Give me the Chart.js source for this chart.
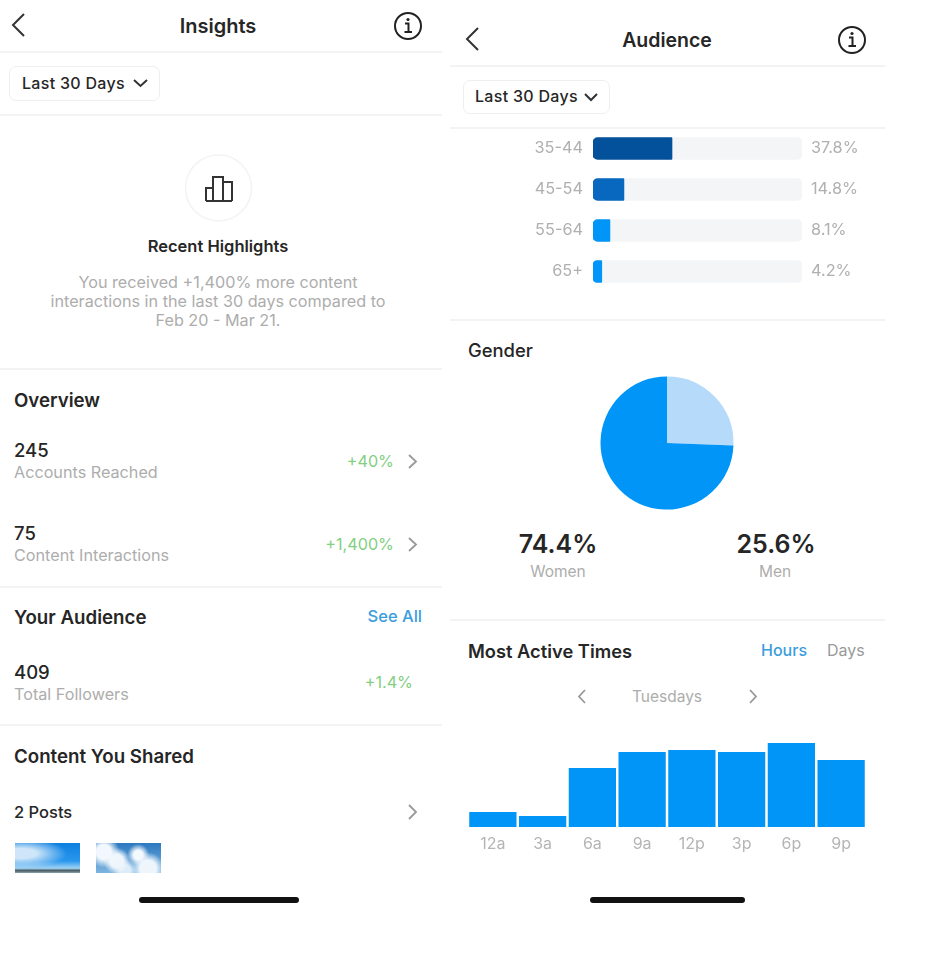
<!DOCTYPE html>
<html>
<head>
<meta charset="utf-8">
<title>Insights</title>
<script src="https://cdn.jsdelivr.net/npm/chart.js@4"></script>
<style>
html,body{margin:0;padding:0;background:#fff;}
body{width:926px;height:963px;position:relative;overflow:hidden;font-family:Inter,"Noto Sans",sans-serif;color:#262626;filter:blur(.5px);}
.t{position:absolute;transform:translateY(-50%);white-space:nowrap;}
.c{transform:translate(-50%,-50%);}
.r{transform:translate(-100%,-50%);}
.h{font-size:18.7px;font-weight:600;}
.n{font-size:18.500px;font-weight:500;}
.g{font-size:16.200px;color:#adadad;}
.s{font-size:15.500px;color:#adadad;}
.up{font-size:16.200px;color:#83cf83;}
.btnt{font-size:16px;font-weight:500;letter-spacing:.3px;}
.line{position:absolute;height:1.5px;margin-top:-1px;background:#f3f3f3;}
.btn{position:absolute;border:1.5px solid #efefef;border-radius:7px;box-sizing:border-box;}
.bar{position:absolute;height:6px;border-radius:3px;background:#111;}
canvas{position:absolute;}
svg{position:absolute;overflow:visible;fill:none;}
</style>
</head>
<body>

<!-- left phone -->
<svg style="left:0;top:0" width="926" height="963">
<path d="M24 14 L13 25 L24 36" stroke="#333" stroke-width="2"/>
<circle cx="408" cy="26" r="13" stroke="#222" stroke-width="2"/>
<path d="M405 23.5h3.5v8M404.500 32h7.500" stroke="#222" stroke-width="2"/>
<circle cx="408" cy="19.500" r="1.600" fill="#222"/>
<path d="M134 80l6.500 6 6.500-6" stroke="#333" stroke-width="2"/>
<circle cx="218.500" cy="188" r="33" stroke="#f3f3f3" stroke-width="1.500"/>
<path d="M206 201v-13h7v13M213 201v-24h10v24M223 201v-19h9v19M206 201h26" stroke="#333" stroke-width="2"/>
<path d="M409 455l7 6.500-7 6.500M409 538l7 6.500-7 6.500M409 805l7 7-7 7" stroke="#999" stroke-width="1.800"/>

<path d="M478 28 L467 39 L478 50" stroke="#333" stroke-width="2"/>
<circle cx="852" cy="40" r="13" stroke="#222" stroke-width="2"/>
<path d="M849 37.500h3.500v8M848.500 46h7.500" stroke="#222" stroke-width="2"/>
<circle cx="852" cy="33.500" r="1.600" fill="#222"/>
<path d="M585 94l6 6 6-6" stroke="#333" stroke-width="2"/>
<path d="M585 690l-6 6.500 6 6.500M750 690l6 6.500-6 6.500" stroke="#999" stroke-width="1.800"/>
</svg>

<div class="t c" style="left:218px;top:26px;font-size:20px;font-weight:600">Insights</div>
<div class="line" style="left:0;top:52px;width:442px"></div>
<div class="btn" style="left:9px;top:66px;width:151px;height:35px"></div>
<div class="t btnt" style="left:22px;top:83px">Last 30 Days</div>
<div class="line" style="left:0;top:115px;width:442px"></div>
<div class="t c" style="left:218px;top:246px;font-size:16.500px;font-weight:600">Recent Highlights</div>
<div class="t c g" style="left:218px;top:282px">You received +1,400% more content</div>
<div class="t c g" style="left:218px;top:301px">interactions in the last 30 days compared to</div>
<div class="t c g" style="left:218px;top:320px">Feb 20 - Mar 21.</div>
<div class="line" style="left:0;top:369px;width:442px"></div>
<div class="t h" style="left:14px;top:400px">Overview</div>
<div class="t n" style="left:14px;top:450px">245</div>
<div class="t g" style="left:14px;top:472px">Accounts Reached</div>
<div class="t r up" style="left:394px;top:461px">+40%</div>
<div class="t n" style="left:14px;top:533px">75</div>
<div class="t g" style="left:14px;top:555px">Content Interactions</div>
<div class="t r up" style="left:394px;top:544px">+1,400%</div>
<div class="line" style="left:0;top:587px;width:442px"></div>
<div class="t h" style="left:14px;top:617px">Your Audience</div>
<div class="t r" style="left:422px;top:616px;font-size:16.500px;font-weight:500;color:#3b9ddd">See All</div>
<div class="t n" style="left:14px;top:672px">409</div>
<div class="t g" style="left:14px;top:694px">Total Followers</div>
<div class="t r up" style="left:413px;top:682px">+1.4%</div>
<div class="line" style="left:0;top:725px;width:442px"></div>
<div class="t h" style="left:14px;top:756px">Content You Shared</div>
<div class="t" style="left:14px;top:812px;font-size:16.500px;font-weight:500">2 Posts</div>
<div style="position:absolute;left:15px;top:843px;width:65px;height:30px;background:radial-gradient(ellipse at 10% 35%,#cfe6f8 0 18%,transparent 55%),linear-gradient(180deg,#0c7fe0 0%,#2a97ee 60%,#9fd3f5 84%,#4a5a60 92%,#8fa5b0 100%)"></div>
<div style="position:absolute;left:96px;top:843px;width:65px;height:30px;background:radial-gradient(circle at 12% 30%,#f2f8fd 0 12%,transparent 26%),radial-gradient(circle at 32% 60%,#eef6fc 0 14%,transparent 28%),radial-gradient(circle at 65% 40%,#f4f9fd 0 10%,transparent 24%),radial-gradient(circle at 80% 85%,#eef6fc 0 14%,transparent 28%),radial-gradient(circle at 45% 92%,#dcecf8 0 12%,transparent 26%),linear-gradient(180deg,#2b78bf,#7db5e0)"></div>
<div class="bar" style="left:139px;top:897px;width:160px"></div>

<!-- right phone -->
<div class="t c" style="left:667px;top:40px;font-size:19.500px;font-weight:600">Audience</div>
<div class="line" style="left:450px;top:66px;width:435px"></div>
<div class="btn" style="left:463px;top:80px;width:147px;height:34px"></div>
<div class="t btnt" style="left:475px;top:96px">Last 30 Days</div>
<div class="line" style="left:450px;top:128px;width:435px"></div>
<canvas id="ageChart" width="392" height="164" style="left:493px;top:128px"></canvas>
<div class="line" style="left:450px;top:320px;width:435px"></div>
<div class="t" style="left:468px;top:350px;font-size:18.400px;font-weight:500">Gender</div>
<canvas id="genderChart" width="140" height="140" style="left:597px;top:373px"></canvas>
<div class="t c" style="left:558px;top:544px;font-size:25px;font-weight:600">74.4%</div>
<div class="t c s" style="left:558px;top:571px">Women</div>
<div class="t c" style="left:776px;top:544px;font-size:25px;font-weight:600">25.6%</div>
<div class="t c s" style="left:775px;top:571px">Men</div>
<div class="line" style="left:450px;top:620px;width:435px"></div>
<div class="t" style="left:468px;top:651px;font-size:18.300px;font-weight:600">Most Active Times</div>
<div class="t" style="left:761px;top:650px;font-size:16px;font-weight:500;color:#3b9ddd">Hours</div>
<div class="t" style="left:827px;top:650px;font-size:16px;color:#999">Days</div>
<div class="t c s" style="left:667px;top:696px">Tuesdays</div>
<canvas id="hoursChart" width="398" height="133" style="left:468px;top:727px"></canvas>
<div class="bar" style="left:590px;top:897px;width:155px"></div>

<script>
const ageLabels = ["35-44","45-54","55-64","65+"];
const ageValues = [37.8,14.8,8.1,4.2];
const ageTrack = [100,100,100,100];
const ageText = ["37.8%","14.8%","8.1%","4.2%"];
const ageColors = ["#04519b","#0868bf","#0095f6","#0095f6"];

const genderLabels = ["Men","Women"];
const genderValues = [25.6,74.4];
const genderColors = ["#b6dafa","#0095f6"];

const hourLabels = ["12a","3a","6a","9a","12p","3p","6p","9p"];
const hourValues = [15,11,59,75,77,75,84,67];

const ageFont = {family:"Inter",size:16.3};
const hourFont = {family:"Inter",size:16};

// fixed width side axes, and no extra room above and below the rows
function fixSide(width){
  return s=>{
    s.width=width;
    s.paddingTop=0;
    s.paddingBottom=0;
  };
}

// age bars, the grey track is a second dataset behind the value
new Chart(document.getElementById("ageChart"),{
  type:"bar",
  data:{
    labels:ageLabels,
    datasets:[
      {data:ageValues,backgroundColor:ageColors,grouped:false,barThickness:22,
       borderRadius:{topLeft:5,bottomLeft:5,topRight:1,bottomRight:1},borderSkipped:false},
      {data:ageTrack,backgroundColor:"#f4f5f6",grouped:false,barThickness:22,
       borderRadius:5,borderSkipped:false}
    ]
  },
  options:{
    indexAxis:"y",
    responsive:false,
    animation:false,
    layout:{padding:0},
    plugins:{legend:{display:false},tooltip:{enabled:false}},
    scales:{
      x:{display:false,min:0,max:100},
      y:{
        position:"left",
        grid:{display:false,drawTicks:false},
        border:{display:false},
        ticks:{color:"#b0b0b0",font:ageFont,padding:10},
        afterFit:fixSide(100)
      },
      yRight:{
        type:"category",
        position:"right",
        labels:ageText,
        grid:{display:false,drawTicks:false},
        border:{display:false},
        ticks:{color:"#b0b0b0",font:ageFont,padding:9},
        afterFit:fixSide(83)
      }
    }
  }
});

new Chart(document.getElementById("genderChart"),{
  type:"pie",
  data:{
    labels:genderLabels,
    datasets:[{data:genderValues,backgroundColor:genderColors,borderWidth:0}]
  },
  options:{
    responsive:false,
    animation:false,
    radius:66.5,
    layout:{padding:0},
    plugins:{legend:{display:false},tooltip:{enabled:false}}
  }
});

new Chart(document.getElementById("hoursChart"),{
  type:"bar",
  data:{
    labels:hourLabels,
    datasets:[{data:hourValues,backgroundColor:"#0095f6",categoryPercentage:1,barPercentage:0.95}]
  },
  options:{
    responsive:false,
    animation:false,
    layout:{padding:0},
    plugins:{legend:{display:false},tooltip:{enabled:false}},
    scales:{
      x:{
        grid:{display:false,drawTicks:false},
        border:{display:false},
        ticks:{color:"#b5b5b5",font:hourFont,padding:8,maxRotation:0,autoSkip:false},
        afterFit:s=>{s.height=33;}
      },
      y:{display:false,min:0,max:100}
    }
  }
});
</script>
</body>
</html>
